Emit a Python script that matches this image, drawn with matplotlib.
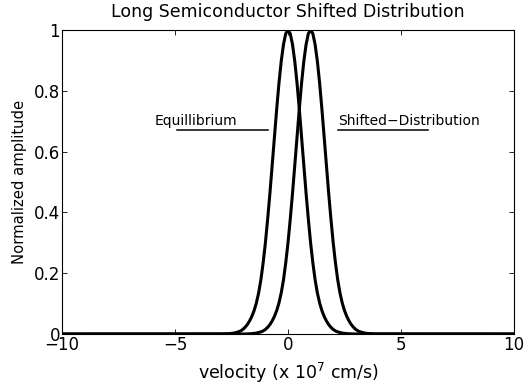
import matplotlib
matplotlib.use("Agg")
import matplotlib.pyplot as plt

plt.rcParams['font.family'] = ['DejaVu Sans']

# equilibrium distribution
vel_eq = [-10, -3.0, -2.8, -2.6, -2.4, -2.2, -2.1, -2.0, -1.9, -1.8, -1.7, -1.6,
          -1.5, -1.4, -1.3, -1.2, -1.1, -1.0, -0.9, -0.8, -0.7, -0.6, -0.5, -0.4,
          -0.3, -0.2, -0.1, 0.0, 0.1, 0.2, 0.3, 0.4, 0.5, 0.6, 0.7, 0.8, 0.9, 1.0,
          1.1, 1.2, 1.3, 1.4, 1.5, 1.6, 1.7, 1.8, 1.9, 2.0, 2.1, 2.2, 2.4, 2.6,
          2.8, 3.0, 10]
amp_eq = [0, 0.0001, 0.0004, 0.0012, 0.003, 0.007, 0.010, 0.015, 0.022, 0.031,
          0.043, 0.058, 0.077, 0.102, 0.135, 0.178, 0.234, 0.300, 0.378, 0.463,
          0.555, 0.648, 0.740, 0.825, 0.897, 0.952, 0.988, 1.0, 0.988, 0.952,
          0.897, 0.825, 0.740, 0.648, 0.555, 0.463, 0.378, 0.300, 0.234, 0.178,
          0.135, 0.102, 0.077, 0.058, 0.043, 0.031, 0.022, 0.015, 0.010, 0.007,
          0.003, 0.0012, 0.0004, 0.0001, 0]

# shifted distribution (peak at 1)
vel_sh = [-10, -2.0, -1.8, -1.6, -1.4, -1.2, -1.1, -1.0, -0.9, -0.8, -0.7, -0.6,
          -0.5, -0.4, -0.3, -0.2, -0.1, 0.0, 0.1, 0.2, 0.3, 0.4, 0.5, 0.6, 0.7,
          0.8, 0.9, 1.0, 1.1, 1.2, 1.3, 1.4, 1.5, 1.6, 1.7, 1.8, 1.9, 2.0, 2.1,
          2.2, 2.3, 2.4, 2.5, 2.6, 2.7, 2.8, 2.9, 3.0, 3.1, 3.2, 3.4, 3.6, 3.8,
          4.0, 10]
amp_sh = [0, 0.0001, 0.0004, 0.0012, 0.003, 0.007, 0.010, 0.015, 0.022, 0.031,
          0.043, 0.058, 0.077, 0.102, 0.135, 0.178, 0.234, 0.300, 0.378, 0.463,
          0.555, 0.648, 0.740, 0.825, 0.897, 0.952, 0.988, 1.0, 0.988, 0.952,
          0.897, 0.825, 0.740, 0.648, 0.555, 0.463, 0.378, 0.300, 0.234, 0.178,
          0.135, 0.102, 0.077, 0.058, 0.043, 0.031, 0.022, 0.015, 0.010, 0.007,
          0.003, 0.0012, 0.0004, 0.0001, 0]

# annotations: (text x, text y, line x0, line x1, line y)
labels = ["Equillibrium", "Shifted\u2212Distribution"]
label_x = [-5.9, 2.2]
label_y = [0.70, 0.70]
line_x0 = [-4.9, 2.2]
line_x1 = [-0.9, 6.2]
line_y = [0.67, 0.67]

fig = plt.figure(figsize=(5.28, 3.86), dpi=100)
ax = fig.add_axes([0.1174, 0.1347, 0.8561, 0.7876])

ax.plot(vel_eq, amp_eq, color='black', lw=2.2)
ax.plot(vel_sh, amp_sh, color='black', lw=2.2)

for t, tx, ty, x0, x1, ly in zip(labels, label_x, label_y, line_x0, line_x1, line_y):
    ax.text(tx, ty, t, fontsize=10, ha='left', va='center')
    ax.plot([x0, x1], [ly, ly], color='black', lw=1.1)

ax.set_xlim(-10, 10)
ax.set_ylim(0, 1)
ax.set_xticks([-10, -5, 0, 5, 10])
ax.set_xticklabels(['\u221210', '\u22125', '0', '5', '10'])
ax.set_yticks([0, 0.2, 0.4, 0.6, 0.8, 1])
ax.set_yticklabels(['0', '0.2', '0.4', '0.6', '0.8', '1'])
ax.tick_params(direction='in', top=True, right=True, length=3.5, width=0.6,
               labelsize=12, pad=1.5)
for s in ax.spines.values():
    s.set_linewidth(0.8)

ax.set_title('Long Semiconductor Shifted Distribution', fontsize=12.5, pad=9.5)
ax.set_xlabel('velocity (x 10$^7$ cm/s)', fontsize=12.5, labelpad=5)
ax.set_ylabel('Normalized amplitude', fontsize=10.6, labelpad=5)

fig.savefig('out.png', dpi=100)
